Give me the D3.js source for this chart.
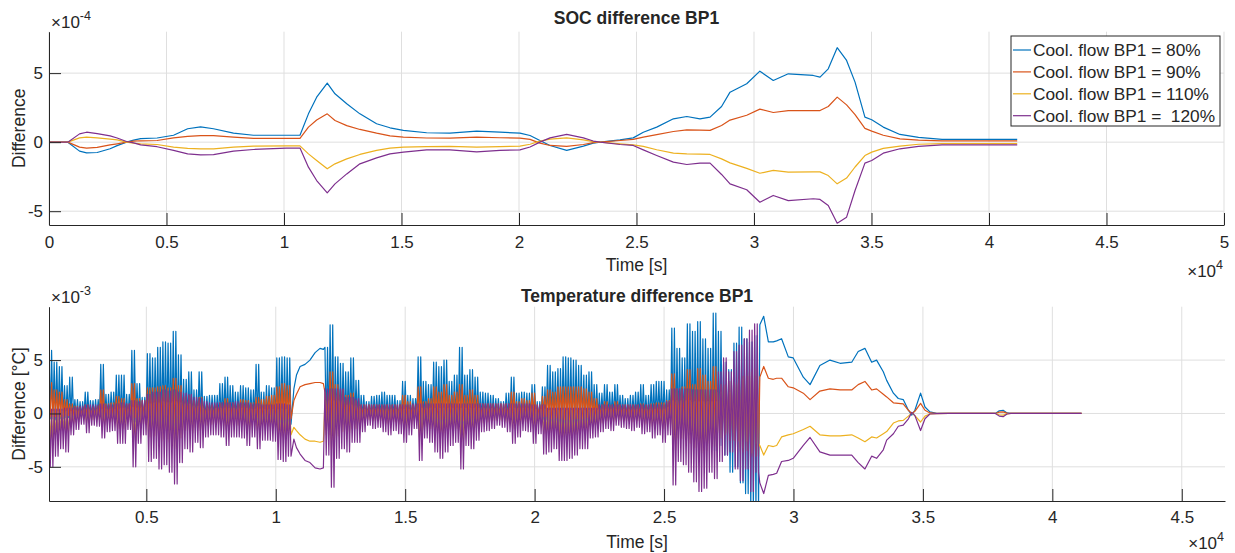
<!DOCTYPE html>
<html>
<head>
<meta charset="utf-8">
<script src="https://cdnjs.cloudflare.com/ajax/libs/d3/7.8.5/d3.min.js"></script>
<style>
  body { margin: 0; background: #fff; }
  text { font-family: "Liberation Sans", Arial, Helvetica, sans-serif; fill: #262626; }
</style>
</head>
<body>
<div id="chart"></div>
<script>
// SOC / temperature difference for 4 coolant flow settings of BP1

var seriesNames = ["Cool. flow BP1 = 80%", "Cool. flow BP1 = 90%", "Cool. flow BP1 = 110%", "Cool. flow BP1 =  120%"];
var colors = ["#0072BD", "#D95319", "#EDB120", "#7E2F8E"];

// ---- top panel: SOC difference (units of 1e-4), time in s
var socTime = [0, 800, 1300, 1600, 2050, 2600, 2900, 3300, 3600, 3900, 4600, 5300, 5900, 6450, 7000, 7850, 8700, 10100, 10680, 11040,
  11390, 11840, 12170, 12670, 13230, 13940, 14510, 15080, 16070, 17060, 18200, 19190, 20040, 20470, 20890, 21320, 22030, 22740, 23160, 23450,
  24300, 24860, 25290, 25860, 26570, 27140, 27700, 28130, 28620, 28980, 29690, 30250, 30820, 31460, 32520, 32810, 33160, 33540, 33940, 34300,
  34720, 35010, 35500, 36210, 37000, 38000, 41200];
var soc80 = [0, 0, -0.65, -0.78, -0.75, -0.48, -0.25, 0, 0.15, 0.25, 0.3, 0.5, 0.97, 1.1, 0.97, 0.65, 0.5, 0.5, 0.5, 2.05,
  3.26, 4.28, 3.5, 2.78, 2.05, 1.33, 1.04, 0.85, 0.68, 0.65, 0.8, 0.72, 0.65, 0.48, 0.12, -0.24, -0.6, -0.29, -0.07, 0,
  0.17, 0.31, 0.72, 1.09, 1.69, 1.86, 1.69, 1.81, 2.58, 3.62, 4.23, 5.14, 4.47, 4.95, 4.83, 4.71, 5.31, 6.84, 5.92, 4.35,
  1.81, 1.62, 1.09, 0.56, 0.35, 0.2, 0.2];
var soc90 = [0, 0, -0.36, -0.43, -0.38, -0.2, -0.12, 0, 0.07, 0.1, 0.12, 0.31, 0.42, 0.48, 0.47, 0.36, 0.28, 0.27, 0.27, 1.09,
  1.6, 2.05, 1.57, 1.2, 0.92, 0.65, 0.46, 0.36, 0.3, 0.29, 0.36, 0.32, 0.29, 0.2, -0.07, -0.24, -0.31, -0.17, -0.04, 0,
  0.12, 0.2, 0.36, 0.55, 0.77, 0.89, 0.87, 0.85, 1.21, 1.6, 1.95, 2.39, 2.15, 2.29, 2.29, 2.29, 2.58, 3.26, 2.7, 2.0,
  1.0, 0.8, 0.5, 0.24, 0.15, 0.1, 0.1];
var soc110 = [0, 0, 0.31, 0.36, 0.31, 0.22, 0.17, 0, -0.07, -0.12, -0.17, -0.36, -0.45, -0.48, -0.48, -0.36, -0.29, -0.27, -0.27, -0.85,
  -1.33, -1.93, -1.57, -1.21, -0.89, -0.6, -0.43, -0.36, -0.32, -0.31, -0.36, -0.32, -0.29, -0.15, 0.07, 0.22, 0.31, 0.17, 0.04, 0,
  -0.12, -0.2, -0.31, -0.55, -0.8, -0.85, -0.87, -0.89, -1.21, -1.5, -1.9, -2.25, -2.05, -2.17, -2.15, -2.15, -2.42, -3.02, -2.6, -1.8,
  -0.97, -0.72, -0.45, -0.29, -0.15, -0.1, -0.1];
var soc120 = [0, 0, 0.6, 0.72, 0.62, 0.45, 0.3, 0.05, -0.05, -0.2, -0.33, -0.6, -0.85, -0.92, -0.9, -0.65, -0.53, -0.43, -0.43, -1.81,
  -2.78, -3.67, -3.02, -2.3, -1.57, -1.14, -0.85, -0.72, -0.56, -0.56, -0.7, -0.6, -0.56, -0.35, 0, 0.31, 0.56, 0.31, 0.08, 0,
  -0.17, -0.24, -0.56, -0.97, -1.45, -1.62, -1.52, -1.52, -2.34, -3.02, -3.45, -4.35, -3.86, -4.23, -4.1, -4.15, -4.59, -5.87, -5.43, -3.5,
  -1.52, -1.33, -0.8, -0.48, -0.3, -0.2, -0.2];

// ---- bottom panel: temperature difference (units of 1e-3)
// noisy stretches, sampled every noiseStep seconds as (max, min) pairs
var noiseStep = 200;
var noiseStartA = 1240;
var blueHiA = [5.9, 4.8, 4.4, 2.6, 3.4, 1.3, 1.1, 2.0, 1.2, 1.3, 4.6, 1.8, 2.0, 3.6, 3.6, 1.8, 5.9, 2.8, 1.5, 5.6,
  5.2, 6.2, 6.7, 6.6, 7.7, 5.5, 3.2, 3.9, 2.2, 3.9, 1.6, 1.7, 1.7, 2.8, 3.4, 2.6, 2.0, 2.6, 2.4, 2.2, 4.6, 2.0, 2.6, 2.4, 5.2, 5.3, 5.2];
var blueLoA = [-0.5, -0.6, -0.5, -0.4, -0.4, -0.3, -0.3, -0.4, -0.3, -0.3, -0.6, -0.4, -0.4, -0.7, -0.8, -0.4, -0.8, -0.5, -0.4, -1.0,
  -1.2, -1.5, -1.2, -1.6, -1.8, -1.2, -0.8, -0.9, -0.6, -0.8, -0.5, -0.5, -0.4, -0.6, -0.8, -0.6, -0.5, -0.6, -0.7, -0.5, -0.8, -0.6, -0.6, -0.7, -1.2, -1.2, -1.0];
var orangeHiA = [2.9, 2.2, 2.0, 1.3, 0.9, 0.7, 0.6, 0.8, 0.6, 0.7, 2.2, 0.9, 1.0, 1.6, 1.4, 0.9, 2.8, 1.4, 1.2, 2.4,
  2.4, 2.5, 2.6, 2.4, 3.3, 2.6, 1.6, 1.7, 1.2, 1.5, 0.8, 0.8, 0.8, 1.0, 1.4, 1.0, 0.9, 1.3, 1.2, 1.0, 1.5, 1.3, 1.6, 1.7, 2.5, 2.8, 2.6];
var orangeLoA = [-0.3, -0.3, -0.3, -0.2, -0.2, -0.2, -0.2, -0.2, -0.2, -0.2, -0.3, -0.2, -0.2, -0.4, -0.4, -0.2, -0.4, -0.3, -0.2, -0.5,
  -0.6, -0.7, -0.6, -0.8, -0.9, -0.6, -0.4, -0.5, -0.3, -0.4, -0.3, -0.3, -0.2, -0.3, -0.4, -0.3, -0.3, -0.3, -0.4, -0.3, -0.4, -0.3, -0.3, -0.4, -0.6, -0.6, -0.5];
var yellowHiA = [0.2, 0.2, 0.2, 0.2, 0.2, 0.3, 0.3, 0.4, 0.4, 0.4, 0.4, 0.4, 0.4, 0.4, 0.5, 0.4, 0.6, 0.5, 0.6, 0.9,
  1.0, 1.0, 1.1, 1.0, 1.1, 1.0, 0.9, 0.9, 0.7, 0.7, 0.5, 0.5, 0.5, 0.5, 0.5, 0.5, 0.5, 0.5, 0.5, 0.4, 0.4, 0.4, 0.4, 0.4, 0.4, 0.4, 0.4];
var yellowLoA = [-2.5, -2.0, -1.6, -1.8, -1.0, -0.8, -0.5, -0.9, -0.6, -0.6, -1.1, -0.8, -0.8, -1.4, -1.4, -0.8, -2.5, -1.4, -1.0, -2.2,
  -2.1, -2.6, -2.4, -2.7, -3.3, -2.3, -1.6, -1.8, -1.3, -1.6, -1.1, -1.0, -1.0, -1.1, -1.5, -1.1, -1.1, -1.1, -1.5, -1.1, -1.6, -1.2, -1.2, -1.3, -2.1, -2.2, -2.0];
var purpleHiA = [0.4, 0.4, 0.4, 0.5, 0.5, 0.6, 0.7, 0.8, 0.8, 0.8, 0.9, 0.8, 0.8, 0.9, 1.0, 0.9, 1.2, 1.1, 1.2, 1.8,
  2.0, 2.0, 2.2, 2.1, 2.2, 2.0, 1.9, 1.8, 1.5, 1.4, 1.1, 1.0, 1.0, 1.0, 1.0, 1.0, 1.1, 1.0, 1.0, 0.9, 0.9, 0.8, 0.8, 0.8, 0.9, 0.9, 0.8];
var purpleLoA = [-5.0, -4.0, -3.3, -3.6, -2.0, -1.5, -1.0, -1.8, -1.1, -1.2, -2.3, -1.7, -1.6, -2.8, -2.8, -1.5, -5.0, -2.8, -2.0, -4.5,
  -4.2, -5.2, -4.8, -5.5, -6.6, -4.6, -3.3, -3.6, -2.7, -3.2, -2.2, -2.0, -2.0, -2.2, -3.0, -2.2, -2.2, -2.3, -3.0, -2.2, -3.3, -2.5, -2.5, -2.6, -4.3, -4.5, -4.0];

// smooth stretch between the two noisy parts
var gapTime = [10700, 10800, 10940, 11130, 11320, 11520, 11710, 11840];
var gap80 = [2.3, 3.6, 4.4, 4.6, 5.0, 5.7, 6.1, 6.0];
var gap90 = [1.2, 1.8, 2.5, 2.7, 2.8, 2.9, 2.9, 2.8];
var gap110 = [-1.3, -1.6, -2.0, -2.4, -2.6, -2.6, -2.7, -2.6];
var gap120 = [-2.4, -3.2, -3.8, -4.4, -4.6, -5.1, -5.2, -5.1];

var noiseStartB = 11900;
var blueHiB = [6.2, 8.3, 5.3, 4.7, 3.9, 5.2, 3.1, 1.7, 1.1, 1.6, 1.7, 2.0, 1.7, 1.7, 1.2, 3.0, 1.7, 1.4, 5.3, 3.0,
  2.7, 4.8, 4.4, 5.0, 3.0, 3.6, 6.2, 3.6, 4.1, 3.4, 2.0, 1.9, 1.7, 1.4, 1.1, 1.9, 3.4, 1.9, 2.0, 1.9,
  2.7, 1.1, 2.5, 4.5, 3.9, 4.2, 5.3, 5.2, 5.0, 4.5, 3.6, 3.9, 2.7, 1.9, 2.7, 2.0, 2.7, 1.7, 1.4, 1.7,
  2.0, 2.7, 1.7, 2.7, 3.0, 3.0, 2.2, 8.0, 6.1, 5.2, 8.4, 7.7, 8.6, 7.0, 6.1, 9.4, 7.7, 4.8, 4.1, 6.6,
  8.1, 7.0, 6.7, 7.3];
var blueLoB = [-1.5, -2.0, -1.2, -1.0, -0.9, -1.0, -0.7, -0.4, -0.3, -0.4, -0.4, -0.5, -0.5, -0.4, -0.5, -0.7, -0.5, -0.4, -1.2, -0.7,
  -0.7, -1.0, -1.1, -1.0, -0.8, -0.7, -1.3, -0.8, -0.9, -0.7, -0.5, -0.4, -0.4, -0.3, -0.3, -0.5, -0.8, -0.5, -0.5, -0.5,
  -0.7, -0.4, -0.6, -0.9, -0.8, -1.0, -1.1, -1.1, -1.0, -0.9, -0.8, -0.7, -0.5, -0.4, -0.4, -0.4, -0.3, -0.3, -0.4, -0.4,
  -0.4, -0.5, -0.5, -0.6, -0.6, -0.7, -0.6, -2.0, -1.5, -1.5, -2.0, -2.5, -2.8, -3.0, -2.5, -3.5, -3.0, -3.9, -5.5, -5.0,
  -6.5, -7.5, -9.0, -9.0];
var orangeHiB = [2.0, 3.9, 2.7, 2.2, 1.7, 1.9, 1.2, 0.8, 0.8, 0.8, 0.8, 0.8, 0.8, 0.8, 0.8, 1.7, 1.1, 0.8, 2.5, 1.1,
  1.4, 2.5, 2.0, 2.7, 1.7, 2.0, 2.7, 1.7, 2.2, 1.7, 0.9, 0.9, 0.9, 0.9, 0.9, 0.9, 2.0, 1.1, 1.4, 1.2,
  1.9, 0.8, 1.6, 2.2, 2.0, 2.5, 2.5, 2.5, 2.5, 2.5, 2.3, 2.0, 1.4, 0.8, 1.1, 0.8, 1.1, 0.8, 0.8, 0.8,
  0.8, 0.9, 0.8, 0.9, 1.0, 1.0, 1.2, 3.7, 2.3, 2.5, 4.1, 2.7, 4.2, 3.6, 3.0, 4.4, 2.7, 2.7, 3.0, 2.7,
  3.5, 3.5, 3.5, 3.5];
var orangeLoB = [-0.8, -1.0, -0.6, -0.5, -0.5, -0.5, -0.4, -0.2, -0.2, -0.2, -0.2, -0.3, -0.3, -0.2, -0.3, -0.4, -0.3, -0.2, -0.6, -0.4,
  -0.4, -0.5, -0.6, -0.5, -0.4, -0.4, -0.7, -0.4, -0.5, -0.4, -0.3, -0.2, -0.2, -0.2, -0.2, -0.3, -0.4, -0.3, -0.3, -0.3,
  -0.4, -0.2, -0.3, -0.5, -0.4, -0.5, -0.6, -0.6, -0.5, -0.5, -0.4, -0.4, -0.3, -0.2, -0.2, -0.2, -0.2, -0.2, -0.2, -0.2,
  -0.2, -0.3, -0.3, -0.3, -0.3, -0.4, -0.3, -1.0, -0.8, -0.8, -1.0, -1.3, -1.4, -1.5, -1.3, -1.8, -1.5, -1.8, -2.5, -2.5,
  -3.6, -3.5, -4.0, -4.0];
var yellowHiB = [1.2, 1.2, 1.2, 1.2, 0.8, 0.8, 0.7, 0.4, 0.4, 0.4, 0.4, 0.4, 0.4, 0.4, 0.4, 0.4, 0.4, 0.4, 0.5, 0.5,
  0.5, 0.5, 0.5, 0.5, 0.5, 0.5, 0.5, 0.5, 0.5, 0.5, 0.5, 0.5, 0.5, 0.5, 0.5, 0.5, 0.5, 0.5, 0.5, 0.5,
  0.4, 0.4, 0.4, 0.3, 0.3, 0.3, 0.3, 0.3, 0.3, 0.3, 0.3, 0.3, 0.3, 0.4, 0.4, 0.4, 0.4, 0.4, 0.4, 0.4,
  0.4, 0.4, 0.4, 0.4, 0.4, 0.4, 0.6, 1.2, 1.2, 1.2, 1.2, 1.1, 1.1, 1.1, 1.1, 1.1, 2.0, 2.6, 2.0, 2.9,
  3.2, 3.5, 3.9, 4.2];
var yellowLoB = [-2.0, -3.4, -2.1, -1.7, -1.8, -1.4, -1.4, -0.9, -0.6, -0.7, -0.7, -0.9, -1.0, -0.8, -1.0, -1.4, -1.0, -0.7, -2.2, -1.2,
  -1.4, -1.8, -2.1, -1.8, -1.5, -1.4, -2.6, -1.5, -1.7, -1.3, -0.9, -0.8, -0.7, -0.6, -0.7, -0.9, -1.4, -1.1, -0.8, -0.9,
  -1.4, -1.0, -1.9, -1.8, -1.7, -2.2, -2.2, -2.1, -2.0, -1.7, -1.7, -1.2, -1.1, -0.9, -0.7, -0.8, -0.6, -0.7, -0.7, -0.8,
  -0.7, -1.0, -0.9, -1.2, -1.0, -1.4, -1.0, -3.4, -2.3, -2.4, -2.8, -3.2, -3.7, -3.5, -2.8, -3.1, -2.3, -2.0, -1.8, -2.6,
  -3.2, -2.6, -3.7, -2.8];
var purpleHiB = [2.3, 2.3, 2.3, 2.3, 1.5, 1.5, 1.4, 0.8, 0.8, 0.8, 0.8, 0.8, 0.8, 0.8, 0.8, 0.8, 0.8, 0.9, 0.9, 0.9,
  0.9, 0.9, 0.9, 0.9, 0.9, 0.9, 0.9, 0.9, 0.9, 0.9, 0.9, 0.9, 0.9, 0.9, 0.9, 0.9, 0.9, 0.9, 0.9, 0.9,
  0.8, 0.8, 0.8, 0.5, 0.5, 0.5, 0.5, 0.5, 0.5, 0.5, 0.5, 0.5, 0.5, 0.8, 0.8, 0.8, 0.8, 0.8, 0.8, 0.8,
  0.8, 0.8, 0.8, 0.8, 0.8, 0.8, 1.1, 2.3, 2.3, 2.3, 2.3, 2.2, 2.2, 2.2, 2.2, 2.2, 3.9, 5.2, 3.9, 5.8,
  6.4, 7.0, 7.8, 8.4];
var purpleLoB = [-3.9, -6.9, -4.2, -3.3, -3.6, -2.7, -2.7, -1.7, -1.1, -1.4, -1.3, -1.7, -2.0, -1.6, -1.9, -2.7, -2.0, -1.4, -4.4, -2.3,
  -2.7, -3.6, -4.2, -3.6, -3.0, -2.7, -5.2, -3.0, -3.3, -2.5, -1.7, -1.6, -1.4, -1.1, -1.3, -1.7, -2.8, -2.2, -1.6, -1.7,
  -2.8, -1.9, -3.8, -3.6, -3.3, -4.4, -4.4, -4.2, -3.9, -3.3, -3.3, -2.3, -2.2, -1.7, -1.4, -1.6, -1.1, -1.3, -1.4, -1.6,
  -1.3, -1.9, -1.7, -2.3, -2.0, -2.7, -2.0, -6.7, -4.5, -4.8, -5.5, -6.4, -7.3, -7.0, -5.5, -6.1, -4.5, -3.9, -3.6, -5.2,
  -6.3, -5.2, -7.3, -5.5];

// smooth tail after the last noisy part
var tailTime = [28700, 28850, 29030, 29220, 29350, 29540, 29800, 29990, 30380, 30640, 31020, 31410, 31800, 32250, 32500, 32760, 33020, 33210, 33470, 33600,
  33860, 34050, 34240, 34440, 34570, 34690, 34910, 35080, 35270, 35530, 36000, 37800, 37950, 38100, 38250, 38400, 41130];
var tail80 = [8.3, 9.1, 6.7, 6.7, 6.8, 7.0, 5.3, 5.2, 3.4, 2.7, 4.5, 5.0, 4.7, 4.8, 5.8, 6.1, 4.8, 5.0, 3.9, 3.1,
  1.9, 1.4, 1.3, 0.3, -0.15, 0.3, 1.9, 0.6, 0.15, 0.02, 0, 0, 0.25, 0.3, 0.05, 0, 0];
var tail90 = [3.4, 4.4, 3.3, 3.2, 3.3, 3.3, 2.5, 2.4, 1.9, 1.3, 2.1, 2.3, 2.2, 2.2, 2.7, 3.0, 2.2, 2.3, 1.8, 1.55,
  1.0, 0.95, 0.9, 0.3, 0, 0.2, 0.95, 0.3, 0.05, 0.01, 0, 0, 0.12, 0.15, 0.03, 0, 0];
var tail110 = [-3.0, -3.9, -3.0, -3.1, -3.0, -2.2, -2.0, -1.9, -1.5, -1.2, -2.0, -2.1, -2.1, -2.0, -2.3, -2.65, -2.2, -2.3, -1.9, -1.7,
  -0.9, -0.7, -0.65, -0.25, 0.05, -0.2, -0.8, -0.25, -0.05, -0.01, 0, 0, -0.12, -0.15, -0.03, 0, 0];
var tail120 = [-6.5, -7.5, -5.8, -5.7, -5.6, -4.5, -4.4, -4.2, -3.0, -2.25, -3.6, -3.9, -3.9, -3.9, -4.6, -5.2, -4.0, -4.2, -3.4, -2.5,
  -1.9, -1.2, -1.1, -0.5, 0.1, -0.2, -1.6, -0.5, -0.05, -0.01, 0, 0, -0.25, -0.3, -0.05, 0, 0];

var yTicks = [-5, 0, 5];

// ---------------------------------------------------------------
var svg = d3.select("#chart").append("svg")
  .attr("width", 1235)
  .attr("height", 553);

function zip(t, v) {
  return t.map(function(d, i) { return [d, v[i]]; });
}

// each (max, min) bin is drawn as a dense back-and-forth stroke so it reads as filled noise
function noisePts(t0, hi, lo) {
  var pts = [];
  hi.forEach(function(h, i) {
    var t = t0 + i * noiseStep;
    pts.push([t, h]);
    pts.push([t + noiseStep * 0.25, lo[i]]);
    pts.push([t + noiseStep * 0.5, h]);
    pts.push([t + noiseStep * 0.75, lo[i]]);
  });
  return pts;
}

var socSeries = [soc80, soc90, soc110, soc120].map(function(v) { return zip(socTime, v); });

var tempSeries = [
  noisePts(noiseStartA, blueHiA, blueLoA).concat(zip(gapTime, gap80), noisePts(noiseStartB, blueHiB, blueLoB), zip(tailTime, tail80)),
  noisePts(noiseStartA, orangeHiA, orangeLoA).concat(zip(gapTime, gap90), noisePts(noiseStartB, orangeHiB, orangeLoB), zip(tailTime, tail90)),
  noisePts(noiseStartA, yellowHiA, yellowLoA).concat(zip(gapTime, gap110), noisePts(noiseStartB, yellowHiB, yellowLoB), zip(tailTime, tail110)),
  noisePts(noiseStartA, purpleHiA, purpleLoA).concat(zip(gapTime, gap120), noisePts(noiseStartB, purpleHiB, purpleLoB), zip(tailTime, tail120))
];

function drawPanel(cfg) {
  var x = d3.scaleLinear().domain(cfg.xDomain).range([cfg.left, cfg.right]);
  var y = d3.scaleLinear().domain(cfg.yDomain).range([cfg.bottom, cfg.top]);
  var g = svg.append("g");

  // grid
  g.selectAll(".vgrid").data(cfg.xTicks).enter().append("line")
    .attr("x1", d => x(d)).attr("x2", d => x(d))
    .attr("y1", cfg.top).attr("y2", cfg.bottom)
    .attr("stroke", "#dfdfdf").attr("stroke-width", 1);
  g.selectAll(".hgrid").data(yTicks).enter().append("line")
    .attr("x1", cfg.left).attr("x2", cfg.right)
    .attr("y1", d => y(d)).attr("y2", d => y(d))
    .attr("stroke", "#dfdfdf").attr("stroke-width", 1);

  // data lines
  var clipId = "clip" + cfg.id;
  svg.append("clipPath").attr("id", clipId).append("rect")
    .attr("x", cfg.left).attr("y", cfg.top)
    .attr("width", cfg.right - cfg.left).attr("height", cfg.bottom - cfg.top);

  var line = d3.line().x(d => x(d[0])).y(d => y(d[1]));
  g.append("g").attr("clip-path", "url(#" + clipId + ")")
    .selectAll("path").data(cfg.series).enter().append("path")
    .attr("d", line)
    .attr("fill", "none")
    .attr("stroke", (d, i) => colors[i])
    .attr("stroke-width", 1.2)
    .attr("stroke-linejoin", "round");

  // axes
  var xAxis = g.append("g")
    .attr("transform", `translate(0,${cfg.bottom})`)
    .call(d3.axisBottom(x).tickValues(cfg.xTicks).tickSizeInner(-12).tickSizeOuter(0)
      .tickPadding(cfg.xPad).tickFormat(d => d / 1e4));
  var yAxis = g.append("g")
    .attr("transform", `translate(${cfg.left},0)`)
    .call(d3.axisLeft(y).tickValues(yTicks).tickSizeInner(-12).tickSizeOuter(0)
      .tickPadding(6).tickFormat(d => d));
  [xAxis, yAxis].forEach(function(a) {
    a.attr("font-family", null).attr("font-size", null);
    a.select(".domain").attr("stroke", "#262626");
    a.selectAll(".tick line").attr("stroke", "#262626");
    a.selectAll(".tick text").attr("fill", "#262626").style("font-size", "17px");
  });

  // titles and labels
  g.append("text")
    .attr("x", (cfg.left + cfg.right) / 2).attr("y", cfg.titleY)
    .attr("text-anchor", "middle")
    .style("font-size", "17.5px").style("font-weight", "bold")
    .text(cfg.title);

  g.append("text")
    .attr("x", (cfg.left + cfg.right) / 2).attr("y", cfg.xLabelY)
    .attr("text-anchor", "middle")
    .style("font-size", "17.5px")
    .text("Time [s]");

  g.append("text")
    .attr("transform", `translate(25, ${(cfg.top + cfg.bottom) / 2}) rotate(-90)`)
    .attr("text-anchor", "middle")
    .style("font-size", "17.5px")
    .text(cfg.yLabel);

  // exponent labels
  var ey = g.append("text").attr("x", 51).attr("y", cfg.top - 4).style("font-size", "17px");
  ey.append("tspan").text("\u00d710");
  ey.append("tspan").attr("dy", -8).style("font-size", "12.5px").text(cfg.yExp);

  var ex = g.append("text").attr("x", cfg.right - 1).attr("y", cfg.xExpY)
    .attr("text-anchor", "end").style("font-size", "17px");
  ex.append("tspan").text("\u00d710");
  ex.append("tspan").attr("dy", -8).style("font-size", "12.5px").text("4");
  return g;
}

drawPanel({
  id: "soc", left: 49, right: 1224, top: 31.7, bottom: 225,
  xDomain: [0, 50000], yDomain: [-6, 8],
  xTicks: d3.range(0, 50001, 5000), xPad: 11,
  series: socSeries,
  title: "SOC difference BP1", titleY: 24, xLabelY: 271, xExpY: 277,
  yLabel: "Difference", yExp: "-4"
});

drawPanel({
  id: "temp", left: 49, right: 1225, top: 306.7, bottom: 501,
  xDomain: [1240, 46670], yDomain: [-8.2, 10],
  xTicks: d3.range(5000, 45001, 5000), xPad: 10,
  series: tempSeries,
  title: "Temperature difference BP1", titleY: 302, xLabelY: 548, xExpY: 549,
  yLabel: "Difference [\u00b0C]", yExp: "-3"
});

// legend
var legend = svg.append("g").attr("transform", "translate(1011,36)");
legend.append("rect")
  .attr("width", 209).attr("height", 90)
  .attr("fill", "#fff").attr("stroke", "#262626").attr("stroke-width", 1);
var rows = legend.selectAll(".row").data(seriesNames).enter().append("g")
  .attr("transform", (d, i) => `translate(0, ${14 + i * 21.9})`);
rows.append("line")
  .attr("x1", 2).attr("x2", 20).attr("y1", 0).attr("y2", 0)
  .attr("stroke", (d, i) => colors[i]).attr("stroke-width", 1.2);
rows.append("text")
  .attr("x", 22).attr("y", 6)
  .style("font-size", "17.3px").style("white-space", "pre")
  .text(d => d);
</script>
</body>
</html>
